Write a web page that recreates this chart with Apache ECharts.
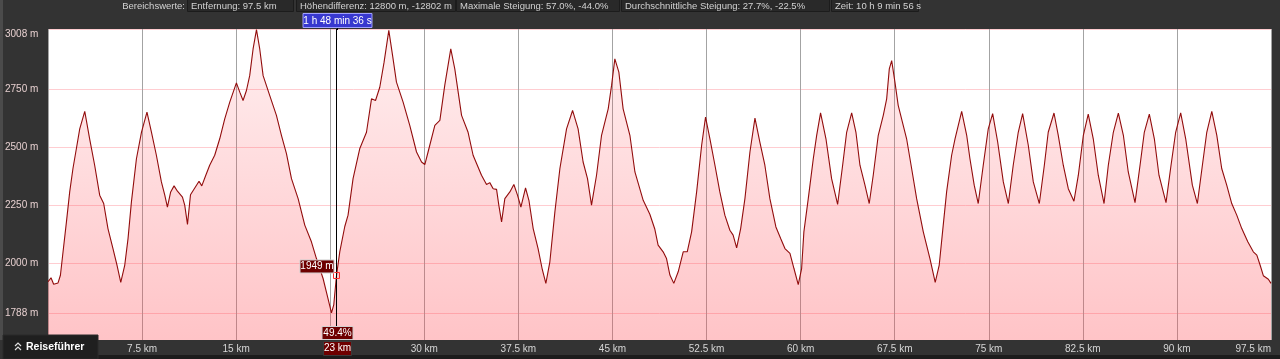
<!DOCTYPE html>
<html><head><meta charset="utf-8">
<script src="https://cdn.jsdelivr.net/npm/echarts@6/dist/echarts.min.js"></script>
<style>html,body{margin:0;padding:0;background:#333;}#c{width:1280px;height:359px;}</style>
</head><body><div id="c"></div>
<script>
// ---- data ----
const distKm = [0,0.24,0.45,0.80,0.99,1.20,1.47,1.73,1.99,2.26,2.53,2.93,3.32,3.72,4.12,4.44,4.78,5.18,5.50,5.80,6.12,6.38,6.65,7.05,7.45,7.89,8.25,8.64,9.04,9.31,9.52,9.78,10.05,10.32,10.72,10.90,11.12,11.36,11.70,12.04,12.26,12.58,12.89,13.29,13.69,14.09,14.49,15.02,15.29,15.55,15.82,16.08,16.35,16.62,16.88,17.15,17.68,18.21,18.61,19.01,19.41,19.94,20.47,21.00,21.40,21.93,22.25,22.60,22.78,23.00,23.26,23.66,23.92,24.32,24.85,25.39,25.79,26.11,26.45,26.79,27.17,27.51,27.78,28.31,28.84,29.38,29.78,30.04,30.30,30.84,31.24,31.63,32.11,32.43,32.97,33.49,33.89,34.56,34.96,35.22,35.49,35.76,35.94,36.16,36.42,36.82,37.14,37.43,37.70,38.07,38.34,38.68,39.07,39.39,39.69,40.01,40.41,40.81,41.34,41.82,42.26,42.66,43.01,43.33,43.73,44.13,44.66,44.93,45.19,45.51,45.85,46.39,46.79,47.45,47.98,48.38,48.64,49.04,49.31,49.58,49.89,50.24,50.64,50.96,51.31,51.71,52.11,52.42,52.77,53.17,53.56,53.96,54.36,54.62,54.90,55.22,55.56,55.96,56.36,56.75,57.15,57.55,58.03,58.41,58.75,59.15,59.47,59.81,60.08,60.26,60.61,61.01,61.28,61.59,62.02,62.47,62.95,63.35,63.67,64.07,64.41,64.73,65.13,65.47,65.79,66.19,66.59,66.86,67.07,67.26,67.52,67.78,68.45,68.85,69.25,69.78,70.31,70.73,71.05,71.37,71.64,72.04,72.31,72.84,73.24,73.50,73.84,74.16,74.56,74.96,75.31,75.71,76.16,76.56,76.95,77.35,77.70,78.15,78.55,79.03,79.43,79.74,80.20,80.54,80.94,81.34,81.79,82.14,82.54,82.93,83.33,83.73,84.19,84.53,84.93,85.33,85.73,86.12,86.66,87.06,87.40,87.80,88.20,88.57,89.13,89.53,89.90,90.30,90.70,91.23,91.63,92.03,92.38,92.78,93.18,93.57,93.97,94.37,94.77,95.17,95.65,96.09,96.37,96.63,96.89,97.29,97.50];
const elevM = [1922,1939,1911,1917,1950,2051,2180,2309,2410,2495,2581,2656,2538,2424,2295,2259,2151,2065,1994,1919,1994,2108,2266,2452,2566,2653,2566,2467,2352,2295,2244,2309,2335,2312,2287,2252,2169,2297,2326,2355,2335,2381,2424,2467,2538,2624,2696,2779,2739,2703,2746,2810,2925,3008,2925,2810,2724,2639,2553,2474,2366,2280,2166,2094,2022,1936,1865,1788,1822,1949,2051,2160,2209,2366,2495,2566,2710,2703,2760,2867,3005,2882,2782,2696,2596,2481,2438,2427,2481,2596,2617,2768,2925,2839,2639,2566,2467,2381,2341,2349,2323,2320,2252,2180,2280,2309,2341,2295,2244,2326,2273,2151,2065,1979,1915,2008,2223,2410,2581,2660,2581,2438,2366,2252,2381,2553,2667,2768,2882,2825,2667,2553,2395,2273,2213,2148,2080,2051,2022,1951,1915,1965,2051,2051,2137,2309,2510,2631,2538,2424,2309,2209,2144,2123,2068,2151,2280,2481,2627,2524,2424,2280,2158,2108,2065,2044,1979,1910,1979,2137,2280,2452,2553,2650,2538,2366,2255,2424,2566,2650,2566,2424,2338,2259,2381,2553,2639,2710,2839,2875,2782,2682,2538,2410,2280,2137,2022,1919,1994,2166,2309,2467,2538,2656,2553,2452,2338,2259,2424,2581,2646,2524,2352,2259,2424,2566,2646,2510,2352,2259,2424,2566,2649,2553,2424,2323,2269,2381,2553,2644,2538,2381,2259,2424,2566,2649,2553,2395,2263,2424,2566,2644,2538,2381,2263,2424,2566,2650,2538,2338,2259,2424,2566,2656,2553,2410,2338,2259,2209,2151,2094,2051,2037,1994,1948,1933,1915];
const xMaxKm = 97.5;
const xTickStep = 7.5;
const yMin = 1671, yMax = 3011;
const yTickValues = [1788, 2000, 2250, 2500, 2750, 3008];
const summaryLabel = 'Bereichswerte:';
const summaryItems = ['Entfernung: 97.5 km', 'Höhendifferenz: 12800 m, -12802 m', 'Maximale Steigung: 57.0%, -44.0%', 'Durchschnittliche Steigung: 27.7%, -22.5%', 'Zeit: 10 h 9 min 56 s'];
const cursorKm = 23;
const cursorElev = 1949;
const cursorTime = '1 h 48 min 36 s';
const cursorGrade = '49.4%';
const guideLabel = 'Reiseführer';

// ---- chart ----
const FONT = 'Liberation Sans, Arial, sans-serif';
const chart = echarts.init(document.getElementById('c'), null, {renderer: 'canvas'});
const seriesData = distKm.map((d, i) => [d, elevM[i]]);

chart.setOption({
  animation: false,
  backgroundColor: '#333333',
  grid: {left: 48, right: 9, top: 29, bottom: 19, show: true, backgroundColor: '#ffffff', borderWidth: 0},
  xAxis: {
    type: 'value', min: 0, max: xMaxKm, interval: xTickStep,
    axisLine: {show: false}, axisTick: {show: false},
    splitLine: {show: true, lineStyle: {color: '#a3a3a3', width: 1}},
    axisLabel: {
      color: '#d6d6d6', fontSize: 10, fontFamily: FONT, margin: 4,
      alignMaxLabel: 'right',
      formatter: v => (v === 0 || Math.abs(v - cursorKm) < 2) ? '' : (v + ' km')
    }
  },
  yAxis: {
    type: 'value', min: yMin, max: yMax,
    axisLine: {show: false},
    axisTick: {show: false, customValues: yTickValues},
    splitLine: {show: true, lineStyle: {color: '#ffcdd1', width: 1}},
    axisLabel: {
      customValues: yTickValues,
      color: '#e6cfcf', fontSize: 10, fontFamily: FONT, align: 'left', margin: 43,
      formatter: v => v === yTickValues[yTickValues.length - 1] ? '{top|' + v + ' m}' : v + ' m',
      rich: {top: {color: '#e6cfcf', fontSize: 10, fontFamily: FONT, padding: [9, 0, 0, 0]}}
    }
  },
  series: [{
    type: 'line', data: seriesData, showSymbol: false, smooth: false,
    lineStyle: {color: '#920c0c', width: 1.1},
    areaStyle: {
      color: new echarts.graphic.LinearGradient(0, 0, 0, 1, [
        {offset: 0, color: 'rgba(255,70,80,0.12)'},
        {offset: 1, color: 'rgba(255,70,80,0.46)'}
      ])
    },
    markLine: {
      silent: true, symbol: 'none', animation: false,
      label: {show: false},
      lineStyle: {color: '#000', width: 1, type: 'solid'},
      data: [{xAxis: cursorKm}]
    },
    markPoint: {
      silent: true, animation: false,
      symbol: 'rect', symbolSize: 6,
      itemStyle: {color: 'rgba(0,0,0,0)', borderColor: '#ff2a2a', borderWidth: 1},
      label: {show: false},
      data: [{coord: [cursorKm, cursorElev]}]
    }
  }]
});

// ---- overlay labels positioned through the chart's own scales ----
const cp = chart.convertToPixel({gridIndex: 0}, [cursorKm, cursorElev]);
const gridBottom = chart.convertToPixel({yAxisIndex: 0}, yMin);
const gridTop = chart.convertToPixel({yAxisIndex: 0}, yMax);
const cx = Math.round(cp[0]) + 0.5;

const boxX = [187, 296, 456, 621, 831];
const boxW = [106, 159, 163, 208, 87];
const TOPFONT = '9.5px ' + FONT;
const g = [];
g.push({type: 'rect', shape: {x: 0, y: 0, width: 3, height: 340}, style: {fill: '#4b4b4b'}, z: 1});
g.push({type: 'rect', shape: {x: 98, y: 355, width: 1182, height: 4}, style: {fill: '#1c1c1c'}, z: 1});
g.push({type: 'text', x: 185, y: 6, style: {text: summaryLabel, fill: '#d2d2d2', font: TOPFONT, align: 'right', verticalAlign: 'middle'}, z: 10});
summaryItems.forEach((t, i) => {
  g.push({type: 'rect', shape: {x: boxX[i] + 0.5, y: -1, width: boxW[i], height: 12.5}, style: {fill: '#292929', stroke: '#1c1c1c', lineWidth: 1}, z: 9});
  g.push({type: 'text', x: boxX[i] + 4, y: 6, style: {text: t, fill: '#d2d2d2', font: TOPFONT, verticalAlign: 'middle'}, z: 10});
});
// cursor time
g.push({type: 'rect', shape: {x: cx - 34.5, y: 13.5, width: 69, height: 14}, style: {fill: '#3838cf', stroke: '#a0a0ff', lineWidth: 1}, z: 10});
g.push({type: 'text', x: cx, y: 21, style: {text: cursorTime, fill: '#ffffff', font: '10px ' + FONT, align: 'center', verticalAlign: 'middle'}, z: 11});
g.push({type: 'line', shape: {x1: cx, y1: 28, x2: cx, y2: gridTop + 1}, style: {stroke: '#000', lineWidth: 1}, z: 10});
// elevation
const elevText = cursorElev + ' m';
g.push({type: 'rect', shape: {x: cx - 37.5, y: cp[1] - 15.5, width: 34, height: 13}, style: {fill: '#6e0000', stroke: '#cfcfcf', lineWidth: 1}, z: 10});
g.push({type: 'text', x: cx - 20.5, y: cp[1] - 9, style: {text: elevText, fill: '#ffffff', font: '10px ' + FONT, align: 'center', verticalAlign: 'middle'}, z: 11});
// grade
g.push({type: 'rect', shape: {x: cx - 15.5, y: gridBottom - 13.5, width: 31, height: 13}, style: {fill: '#6e0000', stroke: '#cfcfcf', lineWidth: 1}, z: 10});
g.push({type: 'text', x: cx, y: gridBottom - 7, style: {text: cursorGrade, fill: '#ffffff', font: '10px ' + FONT, align: 'center', verticalAlign: 'middle'}, z: 11});
// distance
g.push({type: 'rect', shape: {x: cx - 14, y: gridBottom + 1.5, width: 28, height: 14}, style: {fill: '#6e0000', stroke: '#3a3a3a', lineWidth: 1}, z: 10});
g.push({type: 'text', x: cx, y: gridBottom + 8.5, style: {text: cursorKm + ' km', fill: '#ffffff', font: '10px ' + FONT, align: 'center', verticalAlign: 'middle'}, z: 11});
// Reiseführer button
g.push({type: 'rect', shape: {x: 3, y: 335, width: 95, height: 24}, style: {fill: '#1f1f1f', stroke: '#2a2a2a', lineWidth: 1}, z: 12});
g.push({type: 'polyline', shape: {points: [[15, 346], [18, 343], [21, 346]]}, style: {stroke: '#e0e0e0', lineWidth: 1.2, fill: null}, z: 13});
g.push({type: 'polyline', shape: {points: [[15, 350], [18, 347], [21, 350]]}, style: {stroke: '#e0e0e0', lineWidth: 1.2, fill: null}, z: 13});
g.push({type: 'text', x: 26, y: 347, style: {text: guideLabel, fill: '#ffffff', font: 'bold 10.5px ' + FONT, verticalAlign: 'middle'}, z: 13});

chart.setOption({graphic: {elements: g}});
</script></body></html>
